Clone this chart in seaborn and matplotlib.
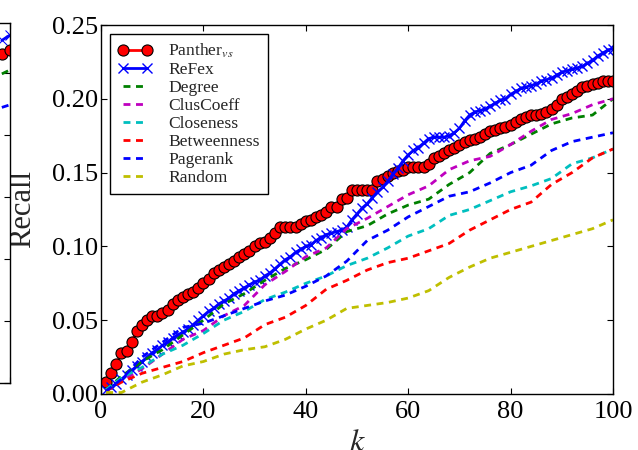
import numpy as np
import matplotlib
matplotlib.use("Agg")          # no display, write png only
import matplotlib.pyplot as plt
from matplotlib.ticker import FormatStrFormatter
import seaborn as sns

sns.set_theme(style="ticks")
plt.rcParams.update({
    "font.family": "serif",
    "font.serif": ["Liberation Serif", "DejaVu Serif"],
    "mathtext.fontset": "stix",
    "lines.scale_dashes": False,
    "axes.edgecolor": "black",
    "axes.linewidth": 1.0,
    "xtick.color": "black", "ytick.color": "black",
    "xtick.direction": "in", "ytick.direction": "in",
    "xtick.top": True, "ytick.right": True,
    "xtick.major.size": 4.5, "ytick.major.size": 4.5,
    "xtick.major.width": 0.8, "ytick.major.width": 0.8,
})

# ── data ────────────────────────────────────────────────────
K_FULL = list(range(1, 101))

PANTHER = [
    0.008, 0.014, 0.020, 0.028, 0.029, 0.035, 0.043, 0.047, 0.050, 0.053,
    0.053, 0.055, 0.057, 0.061, 0.064, 0.066, 0.068, 0.069, 0.072, 0.075,
    0.078, 0.082, 0.084, 0.086, 0.088, 0.090, 0.093, 0.095, 0.097, 0.100,
    0.102, 0.103, 0.106, 0.109, 0.113, 0.113, 0.113, 0.113, 0.115, 0.117,
    0.118, 0.120, 0.121, 0.123, 0.127, 0.127, 0.132, 0.133, 0.138, 0.138,
    0.138, 0.138, 0.138, 0.144, 0.146, 0.148, 0.150, 0.151, 0.152, 0.154,
    0.154, 0.154, 0.154, 0.156, 0.160, 0.161, 0.163, 0.165, 0.167, 0.169,
    0.171, 0.172, 0.173, 0.174, 0.176, 0.178, 0.179, 0.180, 0.181, 0.182,
    0.184, 0.186, 0.188, 0.189, 0.189, 0.190, 0.191, 0.193, 0.196, 0.200,
    0.201, 0.203, 0.205, 0.208, 0.209, 0.210, 0.211, 0.212, 0.212, 0.212,
]

REFEX = [
    0.003, 0.005, 0.007, 0.010, 0.013, 0.016, 0.019, 0.022, 0.025, 0.028,
    0.030, 0.033, 0.035, 0.038, 0.040, 0.042, 0.044, 0.047, 0.050, 0.053,
    0.056, 0.058, 0.061, 0.063, 0.065, 0.068, 0.070, 0.072, 0.074, 0.076,
    0.077, 0.080, 0.082, 0.085, 0.088, 0.091, 0.093, 0.096, 0.098, 0.100,
    0.101, 0.104, 0.106, 0.108, 0.109, 0.110, 0.111, 0.113, 0.118, 0.122,
    0.126, 0.129, 0.133, 0.137, 0.140, 0.144, 0.149, 0.153, 0.158, 0.162,
    0.165, 0.167, 0.170, 0.173, 0.174, 0.174, 0.174, 0.175, 0.177, 0.180,
    0.185, 0.189, 0.191, 0.192, 0.193, 0.195, 0.197, 0.199, 0.200, 0.203,
    0.205, 0.207, 0.208, 0.209, 0.210, 0.212, 0.213, 0.214, 0.216, 0.218,
    0.219, 0.220, 0.221, 0.222, 0.224, 0.226, 0.229, 0.231, 0.233, 0.234,
]

K_BASE = [1, 4, 8, 12, 16, 20, 24, 28, 32, 36, 40, 44, 48, 52, 56,
          60, 64, 68, 72, 76, 80, 84, 88, 92, 96, 100]

DEGREE = [0.003, 0.012, 0.022, 0.030, 0.040, 0.050, 0.061, 0.068, 0.077, 0.085,
          0.091, 0.098, 0.110, 0.114, 0.122, 0.128, 0.132, 0.142, 0.150, 0.163,
          0.169, 0.176, 0.183, 0.187, 0.189, 0.200]
CLUSCOEFF = [0.002, 0.009, 0.017, 0.027, 0.037, 0.043, 0.053, 0.060, 0.074, 0.083,
             0.093, 0.099, 0.112, 0.119, 0.127, 0.135, 0.141, 0.152, 0.158, 0.161,
             0.169, 0.178, 0.186, 0.190, 0.196, 0.200]
CLOSENESS = [0.003, 0.011, 0.018, 0.027, 0.033, 0.041, 0.050, 0.056, 0.064, 0.069,
             0.075, 0.080, 0.087, 0.092, 0.099, 0.107, 0.112, 0.121, 0.125, 0.131,
             0.137, 0.141, 0.146, 0.156, 0.160, 0.166]
BETWEENNESS = [0.002, 0.008, 0.014, 0.018, 0.022, 0.028, 0.033, 0.038, 0.047, 0.052,
               0.060, 0.071, 0.077, 0.084, 0.089, 0.092, 0.097, 0.102, 0.111, 0.118,
               0.125, 0.130, 0.142, 0.150, 0.160, 0.166]
PAGERANK = [0.002, 0.010, 0.025, 0.035, 0.045, 0.048, 0.053, 0.058, 0.063, 0.067,
            0.073, 0.080, 0.090, 0.104, 0.111, 0.120, 0.127, 0.134, 0.137, 0.143,
            0.150, 0.155, 0.165, 0.171, 0.174, 0.177]
RANDOM = [0.001, 0.001, 0.008, 0.013, 0.019, 0.022, 0.027, 0.030, 0.032, 0.037,
          0.044, 0.050, 0.058, 0.060, 0.062, 0.065, 0.070, 0.079, 0.086, 0.092,
          0.096, 0.100, 0.104, 0.108, 0.112, 0.118]

# old-style matplotlib single-letter colours (seaborn remaps the letters)
BASELINES = [
    ("Degree", DEGREE, "#008000"),
    ("ClusCoeff", CLUSCOEFF, "#bf00bf"),
    ("Closeness", CLOSENESS, "#00bfbf"),
    ("Betweenness", BETWEENNESS, "#ff0000"),
    ("Pagerank", PAGERANK, "#0000ff"),
    ("Random", RANDOM, "#bfbf00"),
]

# cropped neighbouring panel, only its right edge shows
SIDE_K = [97, 100]
SIDE_REFEX = [0.276, 0.280]
SIDE_PANTHER = [0.265, 0.268]
SIDE_DEGREE = [0.249, 0.252]
SIDE_LOW = [0.222, 0.224]

DASH = (0, (5, 4))

fig = plt.figure(figsize=(6.38, 4.5), dpi=100)
ax = fig.add_axes([101 / 638, 56 / 450, 512 / 638, 369 / 450])

# ── main panel ──────────────────────────────────────────────
sns.lineplot(x=K_FULL, y=PANTHER, ax=ax, color="#ff0000", linewidth=2,
             marker="o", markersize=8, markeredgecolor="black",
             markeredgewidth=0.8, label=r"Panther$_{vs}$")
sns.lineplot(x=K_FULL, y=REFEX, ax=ax, color="#0000ff", linewidth=2,
             marker="x", markersize=7, markeredgewidth=1.0,
             markeredgecolor="#0000ff", label="ReFex")
for name, vals, col in BASELINES:
    sns.lineplot(x=K_BASE, y=vals, ax=ax, color=col, linewidth=2,
                 linestyle=DASH, label=name)

ax.set_xlim(0, 100)
ax.set_ylim(0, 0.25)
ax.set_xticks(range(0, 101, 20))
ax.set_yticks(np.arange(0, 0.2501, 0.05))
ax.yaxis.set_major_formatter(FormatStrFormatter("%.2f"))
ax.tick_params(axis="both", labelsize=19)
ax.tick_params(axis="x", pad=5)
ax.tick_params(axis="y", pad=2)

ax.set_xlabel("$k$", fontsize=23)
ax.set_ylabel("Recall", fontsize=22)
ax.xaxis.set_label_coords(0.5, -0.095)
ax.yaxis.set_label_coords(-0.125, 0.5)

leg = ax.legend(loc="upper left", fontsize=12.6, numpoints=2,
                labelspacing=0.1, handlelength=2.0, handletextpad=0.9,
                borderaxespad=0.5, borderpad=0.45, fancybox=False,
                framealpha=1, edgecolor="black")
leg.get_frame().set_linewidth(1.0)

# ── cropped neighbour panel on the left ─────────────────────
ax2 = fig.add_axes([9.5 / 638 - 0.4, 67 / 450, 0.4, 360 / 450])
sns.lineplot(x=SIDE_K, y=SIDE_REFEX, ax=ax2, color="#0000ff", marker="x",
             markersize=7, markeredgecolor="#0000ff", linewidth=2)
sns.lineplot(x=SIDE_K, y=SIDE_PANTHER, ax=ax2, color="#ff0000", marker="o",
             markersize=8, markeredgecolor="black", markeredgewidth=0.8,
             linewidth=2)
sns.lineplot(x=SIDE_K, y=SIDE_DEGREE, ax=ax2, color="#008000",
             linestyle=DASH, linewidth=2)
sns.lineplot(x=SIDE_K, y=SIDE_LOW, ax=ax2, color="#0000ff",
             linestyle=DASH, linewidth=2)
ax2.set_xlim(0, 100)
ax2.set_ylim(0, 0.29)
ax2.set_yticks(np.arange(0, 0.2501, 0.05))
ax2.set_xticks([100])
ax2.tick_params(labelleft=False, labelbottom=False)
if ax2.get_legend() is not None:
    ax2.get_legend().remove()

fig.savefig("out.png", dpi=100)
plt.close(fig)
